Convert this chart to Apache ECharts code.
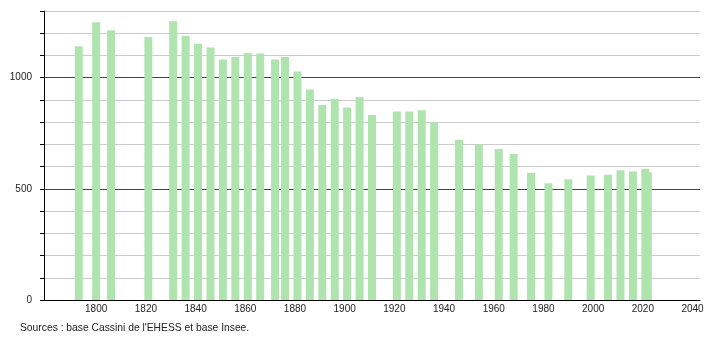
<!DOCTYPE html>
<html>
<head>
<meta charset="utf-8">
<script src="https://cdn.jsdelivr.net/npm/echarts@6/dist/echarts.min.js"></script>
<style>html,body{margin:0;padding:0;background:#fff;}#c{width:710px;height:340px;}</style>
</head>
<body>
<div id="c"></div>
<script>
const years = [1793,1800,1806,1821,1831,1836,1841,1846,1851,1856,1861,1866,1872,1876,1881,1886,1891,1896,1901,1906,1911,1921,1926,1931,1936,1946,1954,1962,1968,1975,1982,1990,1999,2006,2011,2016,2021,2022];
const population = [1141,1249,1213,1183,1254,1187,1153,1136,1082,1093,1111,1109,1082,1093,1028,947,877,905,866,913,832,848,848,853,800,721,700,679,657,572,525,543,560,563,584,578,590,575];
const xTickLabels = [1800,1820,1840,1860,1880,1900,1920,1940,1960,1980,2000,2020,2040];
const yTickLabels = [0,500,1000];
const sourceText = "Sources : base Cassini de l'EHESS et base Insee.";

const chart = echarts.init(document.getElementById('c'), null, {renderer:'canvas'});
const font = 'Liberation Sans, Arial, sans-serif';
chart.setOption({
  animation:false,
  grid:{left:44, right:10, top:11, bottom:40, containLabel:false},
  xAxis:{
    type:'value', min:1779, max:2043,
    axisLine:{show:true, onZero:false, lineStyle:{color:'#000', width:1}},
    axisTick:{show:false},
    splitLine:{show:false},
    axisLabel:{customValues:xTickLabels, color:'#222', fontFamily:font, fontSize:10, margin:4,
      formatter: v => String(v)}
  },
  yAxis:{
    type:'value', min:0, max:1300, interval:100,
    axisLine:{show:true, lineStyle:{color:'#000', width:1}},
    axisTick:{show:true, length:4, lineStyle:{color:'#000'}},
    axisLabel:{color:'#222', fontFamily:font, fontSize:10, margin:12,
      formatter: v => yTickLabels.includes(v) ? String(v) : ''},
    splitLine:{show:true, lineStyle:{color:['#444','#ccc','#ccc','#ccc','#ccc'], width:1}}
  },
  series:[{
    type:'bar',
    barWidth:8,
    itemStyle:{color:'#afe4af'},
    data: years.map((y,i)=>[y, population[i]])
  }],
  graphic:[{
    type:'text', left:20, top:323,
    style:{text:sourceText, fill:'#222', font:'10.3px '+font}
  }]
});
</script>
</body>
</html>
